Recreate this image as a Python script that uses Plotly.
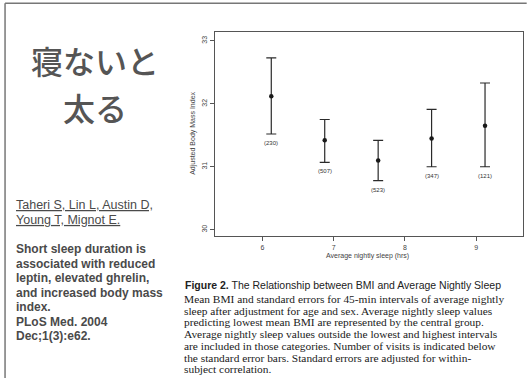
import plotly.graph_objects as go

# Average nightly sleep (hrs), midpoints of 45-min intervals
sleep_hrs = [6.125, 6.875, 7.625, 8.375, 9.125]
# Adjusted BMI means and the ends of the standard-error bars
bmi_mean = [32.12, 31.42, 31.10, 31.45, 31.65]
bar_upper = [32.73, 31.75, 31.42, 31.91, 32.33]
bar_lower = [31.52, 31.07, 30.78, 31.00, 31.00]
# Number of visits per interval
visits = ["(230)", "(507)", "(523)", "(347)", "(121)"]

x_ticks = [6, 7, 8, 9]
y_ticks = [30, 31, 32, 33]

title_lines = ["寝ないと", "太る"]
author_lines = ["Taheri S, Lin L, Austin D,", "Young T, Mignot E."]
abstract_lines = [
    "Short sleep duration is",
    "associated with reduced",
    "leptin, elevated ghrelin,",
    "and increased body mass",
    "index.",
    "PLoS Med. 2004",
    "Dec;1(3):e62.",
]
caption_head = "<b>Figure 2.</b> The Relationship between BMI and Average Nightly Sleep"
caption_lines = [
    "Mean BMI and standard errors for 45-min intervals of average nightly",
    "sleep after adjustment for age and sex. Average nightly sleep values",
    "predicting lowest mean BMI are represented by the central group.",
    "Average nightly sleep values outside the lowest and highest intervals",
    "are included in those categories. Number of visits is indicated below",
    "the standard error bars. Standard errors are adjusted for within-",
    "subject correlation.",
]

W, H = 527, 378
L, R, T, B = 214.5, 3.7, 31.7, 142.3
pw, ph = W - L - R, H - T - B


def fx(px):
    return (px - L) / pw


def fy(py):
    return 1 - (py - T) / ph


def block(lines, glyph_px, wrap=None):
    """Join lines into one multi-line label with glyphs drawn at glyph_px."""
    parts = []
    for ln in lines:
        if wrap:
            ln = wrap.format(ln)
        parts.append(f"<span style='font-size:{glyph_px}px'>{ln}</span>")
    return "<br>".join(parts)


err_plus = [u - m for u, m in zip(bar_upper, bmi_mean)]
err_minus = [m - l for m, l in zip(bmi_mean, bar_lower)]

fig = go.Figure()
fig.add_trace(go.Scatter(
    x=sleep_hrs, y=bmi_mean, mode="markers",
    marker=dict(color="#1a1a1a", size=4.5),
    error_y=dict(type="data", symmetric=False, array=err_plus,
                 arrayminus=err_minus, color="#2a2a2a", thickness=1.2, width=5),
    showlegend=False, cliponaxis=False,
))

ann = []
for xv, lo, txt in zip(sleep_hrs, bar_lower, visits):
    ann.append(dict(x=xv, y=lo, xref="x", yref="y", text=txt, showarrow=False,
                    yshift=-9, font=dict(size=6, color="#333", family="Liberation Sans")))

# axis titles
ann.append(dict(x=fx(193), y=fy(133), xref="paper", yref="paper", showarrow=False,
                text="Adjusted Body Mass Index", textangle=-90,
                xanchor="center", yanchor="middle",
                font=dict(size=7, color="#444", family="Liberation Sans")))
ann.append(dict(x=fx(367), y=fy(262), xref="paper", yref="paper", showarrow=False,
                text="Average nightly sleep (hrs)",
                font=dict(size=7, color="#444", family="Liberation Sans")))

# Japanese headline
ann.append(dict(x=fx(94), y=fy(83.5), xref="paper", yref="paper",
                showarrow=False, text=block(title_lines, 32),
                xanchor="center", yanchor="middle",
                font=dict(size=35.8, color="#555", family="Noto Sans CJK JP",
                          weight=500)))

# citation block
ann.append(dict(x=fx(14), y=fy(212.5), xref="paper", yref="paper",
                showarrow=False, align="left",
                text=block(author_lines, 12.5, "<u>{}</u>"),
                xanchor="left", yanchor="middle", borderpad=0,
                font=dict(size=11.5, color="#4a4a4a", family="Liberation Sans")))
ann.append(dict(x=fx(14), y=fy(292.5), xref="paper", yref="paper",
                showarrow=False, align="left",
                text=block(abstract_lines, 12, "<b>{}</b>"),
                xanchor="left", yanchor="middle", borderpad=0,
                font=dict(size=11.2, color="#4a4a4a", family="Liberation Sans")))

# figure caption
ann.append(dict(x=fx(183), y=fy(285), xref="paper", yref="paper", showarrow=False,
                text=caption_head, xanchor="left", yanchor="middle", borderpad=0,
                font=dict(size=10.5, color="#222", family="Liberation Sans")))
ann.append(dict(x=fx(182), y=fy(333.3), xref="paper", yref="paper", showarrow=False,
                text=block(caption_lines, 11.4), align="left",
                xanchor="left", yanchor="middle", borderpad=0,
                font=dict(size=9, color="#1a1a1a", family="Liberation Serif")))

shapes = [
    dict(type="line", xref="paper", yref="paper", x0=fx(4), x1=fx(4),
         y0=fy(3), y1=fy(378), line=dict(color="#777", width=1.5)),
    dict(type="line", xref="paper", yref="paper", x0=fx(4), x1=fx(527),
         y0=fy(3), y1=fy(3), line=dict(color="#777", width=1.5)),
]

axis_common = dict(showgrid=False, zeroline=False, showline=True, mirror=True,
                   linecolor="#555", linewidth=1.3, ticks="outside", ticklen=4,
                   tickcolor="#555", tickfont=dict(size=7, color="#444",
                                                   family="Liberation Sans"))
fig.update_layout(
    width=W, height=H,
    margin=dict(l=L, r=R, t=T, b=B),
    paper_bgcolor="white", plot_bgcolor="white",
    xaxis=dict(range=[5.335, 9.658], tickvals=x_ticks, **axis_common),
    yaxis=dict(range=[29.9, 33.14], tickvals=y_ticks, tickangle=-90, **axis_common),
    annotations=ann, shapes=shapes,
)

fig.write_html("out.html")
